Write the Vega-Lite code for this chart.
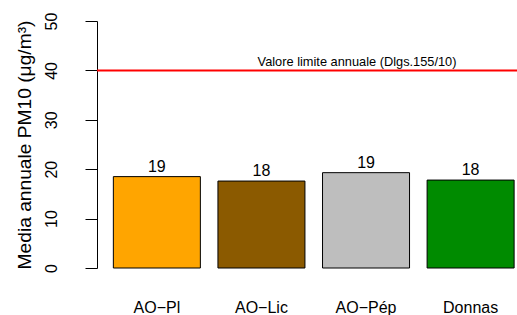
{
  "$schema": "https://vega.github.io/schema/vega-lite/v6.json",
  "autosize": {"type": "none"},
  "padding": {"left": 97, "top": 21, "right": 0, "bottom": 47},
  "width": 420,
  "height": 247,
  "config": {"view": {"stroke": null}, "font": "Liberation Sans"},
  "data": {"values": [
    {"station": "AO−Pl", "pm10": 18.5, "label": "19"},
    {"station": "AO−Lic", "pm10": 17.6, "label": "18"},
    {"station": "AO−Pép", "pm10": 19.3, "label": "19"},
    {"station": "Donnas", "pm10": 17.8, "label": "18"}
  ]},
  "layer": [
    {
      "mark": {"type": "bar", "stroke": "black", "strokeWidth": 1},
      "encoding": {
        "x": {"field": "station", "type": "nominal", "sort": null,
          "scale": {"paddingInner": 0.168, "paddingOuter": 0.092, "align": 0.85},
          "axis": {"title": null, "labelAngle": 0, "domain": false, "ticks": false, "tickSize": 0, "labelPadding": 31, "labelFontSize": 16, "labelColor": "black", "labelFont": "Liberation Sans"}},
        "y": {"field": "pm10", "type": "quantitative",
          "scale": {"domain": [0, 50], "nice": false},
          "axis": {"title": "Media annuale PM10 (μg/m³)", "values": [0, 10, 20, 30, 40, 50], "grid": false,
            "labelAngle": -90, "labelAlign": "center", "labelBaseline": "alphabetic", "labelPadding": 29,
            "tickSize": 12, "tickColor": "black", "domainColor": "black", "labelFontSize": 16, "labelColor": "black", "labelFont": "Liberation Sans",
            "titleFontSize": 19.2, "titleFontWeight": "normal", "titleColor": "black", "titleFont": "Liberation Sans", "titlePadding": 9}},
        "color": {"field": "station", "type": "nominal",
          "scale": {"domain": ["AO−Pl", "AO−Lic", "AO−Pép", "Donnas"], "range": ["#FFA500", "#8B5A00", "#BEBEBE", "#008B00"]},
          "legend": null}
      }
    },
    {
      "mark": {"type": "text", "baseline": "alphabetic", "dy": -5, "fontSize": 16, "font": "Liberation Sans", "color": "black"},
      "encoding": {
        "x": {"field": "station", "type": "nominal", "sort": null},
        "y": {"field": "pm10", "type": "quantitative"},
        "text": {"field": "label"}
      }
    },
    {
      "data": {"values": [{"limit": 40, "note": "Valore limite annuale (Dlgs.155/10)"}]},
      "layer": [
        {
          "mark": {"type": "rule", "color": "#FF0000", "strokeWidth": 2},
          "encoding": {"y": {"field": "limit", "type": "quantitative"}}
        },
        {
          "mark": {"type": "text", "baseline": "alphabetic", "dy": -4, "dx": -9, "fontSize": 12.8, "font": "Liberation Sans", "color": "black"},
          "encoding": {
            "x": {"datum": "AO−Pép"},
            "y": {"field": "limit", "type": "quantitative"},
            "text": {"field": "note"}
          }
        }
      ]
    }
  ]
}
